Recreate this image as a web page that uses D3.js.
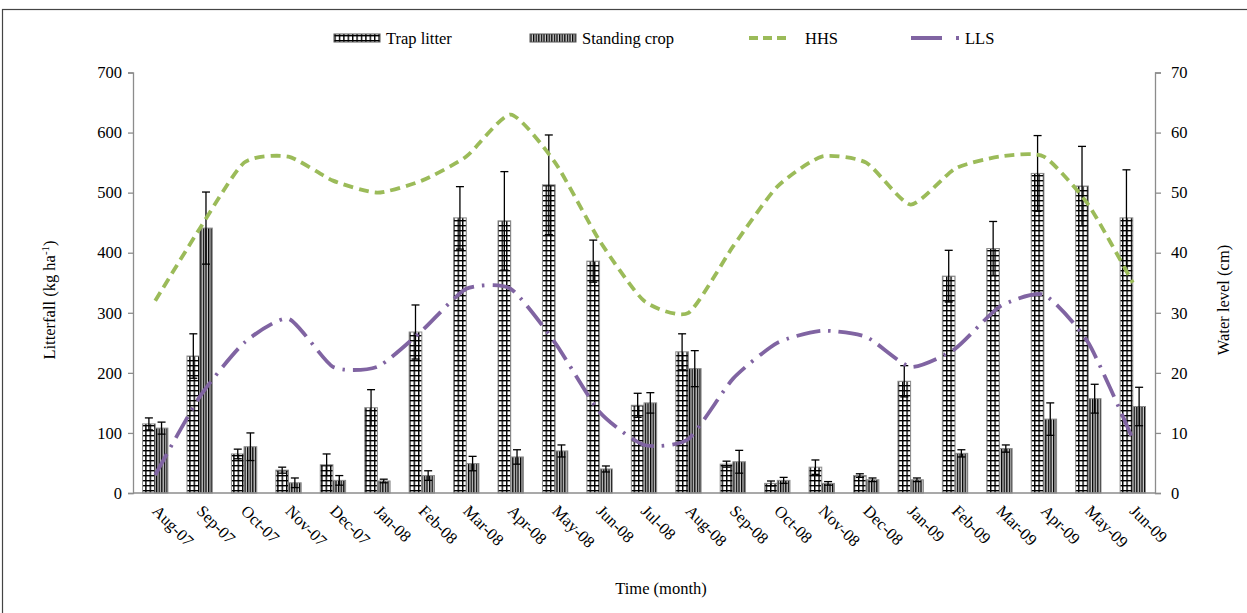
<!DOCTYPE html>
<html>
<head>
  <meta charset="UTF-8">
  <title>litterfall</title>
  <style>
    body { margin: 0; background: #fff; }
    text { font-family: "Liberation Serif", "Times New Roman", serif; fill: #000; }
  </style>
</head>
<body>
  <div class="svg-zone"></div>
  <script src="https://cdn.jsdelivr.net/npm/d3@7"></script>
  <script type="text/javascript">
  // months on the x axis
  const months = ["Aug-07","Sep-07","Oct-07","Nov-07","Dec-07","Jan-08","Feb-08","Mar-08","Apr-08","May-08","Jun-08","Jul-08",
    "Aug-08","Sep-08","Oct-08","Nov-08","Dec-08","Jan-09","Feb-09","Mar-09","Apr-09","May-09","Jun-09"];
  // litterfall, kg/ha
  const trapLitter = [115,228,65,38,47,142,268,458,453,513,386,146,235,48,16,43,29,186,361,407,532,511,458];
  const trapErr    = [10,37,8,5,18,30,45,52,82,83,35,20,30,5,4,12,3,26,43,45,63,66,80];
  const standCrop  = [108,441,77,17,21,20,29,49,60,70,40,150,207,52,21,16,22,22,66,74,123,157,144];
  const standErr   = [10,60,23,8,8,3,8,12,12,10,5,17,30,19,5,3,3,3,6,6,27,24,32];
  // water level, cm
  const hhs = [32,44,55,56,52,50,52,56,63,55,42,32,30,41,51,56,55,48,54,56,56,48,35];
  const lls = [3,16,25,29,21,21,27,34,34,25,13.5,8,9,19,25,27,26,21,24,31,33,25,9];
  const leftTicks = [0,100,200,300,400,500,600,700];
  const rightTicks = [0,10,20,30,40,50,60,70];

  const width = 1247, height = 613;
  const pLeft = 133, pRight = 1155, pTop = 72.5, pBottom = 493;
  const fs = "16.5px";

  const svg = d3.select(".svg-zone").append("svg")
    .attr("width", width)
    .attr("height", height);

  // outer frame
  svg.append("rect")
    .attr("x", 2.5).attr("y", 9.5)
    .attr("width", 1260).attr("height", 620)
    .attr("fill", "none").attr("stroke", "#444").attr("stroke-width", 1.2);

  const defs = svg.append("defs");
  // grid pattern for trap litter
  const p1 = defs.append("pattern").attr("id", "grid")
    .attr("patternUnits", "userSpaceOnUse")
    .attr("width", 4.4).attr("height", 5);
  p1.append("rect").attr("width", 4.4).attr("height", 5).attr("fill", "#fff");
  p1.append("rect").attr("width", 1.4).attr("height", 5).attr("fill", "#000");
  p1.append("rect").attr("width", 4.4).attr("height", 1.4).attr("fill", "#000");
  // vertical stripes for standing crop
  const p2 = defs.append("pattern").attr("id", "stripe")
    .attr("patternUnits", "userSpaceOnUse")
    .attr("width", 2.6).attr("height", 4);
  p2.append("rect").attr("width", 2.6).attr("height", 4).attr("fill", "#cfcfcf");
  p2.append("rect").attr("width", 1.3).attr("height", 4).attr("fill", "#000");

  const x = d3.scaleBand().domain(months).range([pLeft, pRight]);
  const y = d3.scaleLinear().domain([0, 700]).range([pBottom, pTop]);
  const y2 = d3.scaleLinear().domain([0, 70]).range([pBottom, pTop]);
  const bw = x.bandwidth() * 0.285;
  const cx = d => x(d) + x.bandwidth() / 2;

  // axes
  const yAxis = d3.axisLeft(y).tickValues(leftTicks).tickSize(5).tickPadding(6);
  const gy = svg.append("g").attr("transform", "translate(" + pLeft + ",0)").call(yAxis);
  const yAxis2 = d3.axisRight(y2).tickValues(rightTicks).tickSize(6).tickPadding(10);
  const gy2 = svg.append("g").attr("transform", "translate(" + pRight + ",0)").call(yAxis2);
  [gy, gy2].forEach(g => {
    g.selectAll("path,line").attr("stroke", "#8c8c8c").attr("stroke-width", 1.3);
    g.selectAll("text").style("font-size", fs).attr("fill", "#000")
      .style("font-family", "'Liberation Serif', serif");
  });

  // bars
  const bars = svg.append("g");
  bars.selectAll(".trap").data(months).enter().append("rect")
    .attr("class", "trap")
    .attr("x", d => cx(d) - bw)
    .attr("y", (d, i) => y(trapLitter[i]))
    .attr("width", bw)
    .attr("height", (d, i) => pBottom - y(trapLitter[i]))
    .attr("fill", "url(#grid)").attr("stroke", "#8a8a8a").attr("stroke-width", 1);
  bars.selectAll(".stand").data(months).enter().append("rect")
    .attr("class", "stand")
    .attr("x", d => cx(d))
    .attr("y", (d, i) => y(standCrop[i]))
    .attr("width", bw)
    .attr("height", (d, i) => pBottom - y(standCrop[i]))
    .attr("fill", "url(#stripe)").attr("stroke", "#8a8a8a").attr("stroke-width", 1);

  // error bars
  function errBars(vals, errs, off) {
    const g = svg.append("g").attr("stroke", "#000").attr("stroke-width", 1.3);
    months.forEach((m, i) => {
      const px = cx(m) + off;
      g.append("line").attr("x1", px).attr("x2", px)
        .attr("y1", y(vals[i] - errs[i])).attr("y2", y(vals[i] + errs[i]));
      [vals[i] - errs[i], vals[i] + errs[i]].forEach(v => {
        g.append("line").attr("x1", px - 4).attr("x2", px + 4)
          .attr("y1", y(v)).attr("y2", y(v));
      });
    });
  }
  errBars(trapLitter, trapErr, -bw / 2);
  errBars(standCrop, standErr, bw / 2);

  // x axis baseline
  svg.append("line").attr("x1", pLeft).attr("x2", pRight)
    .attr("y1", pBottom).attr("y2", pBottom)
    .attr("stroke", "#8c8c8c").attr("stroke-width", 1.3);

  // water level lines
  const line = d3.line()
    .x((d, i) => cx(months[i]))
    .y(d => y2(d))
    .curve(d3.curveCardinal.tension(0.4));
  svg.append("path").attr("d", line(hhs))
    .attr("fill", "none").attr("stroke", "#9bbb59").attr("stroke-width", 3.8)
    .attr("stroke-dasharray", "10,6");
  svg.append("path").attr("d", line(lls))
    .attr("fill", "none").attr("stroke", "#8064a2").attr("stroke-width", 3.8)
    .attr("stroke-dasharray", "24,8,2.5,8");

  // x labels, rotated
  svg.append("g").selectAll("text").data(months).enter().append("text")
    .attr("transform", d => "translate(" + (cx(d) - 4) + ",512) rotate(45)")
    .style("font-size", fs)
    .text(d => d);

  // axis titles
  svg.append("text")
    .attr("transform", "translate(55,300) rotate(-90)")
    .attr("text-anchor", "middle")
    .style("font-size", fs)
    .html('Litterfall (kg ha<tspan dy="-6" font-size="11px">-1</tspan><tspan dy="6">)</tspan>');
  svg.append("text")
    .attr("transform", "translate(1229,300) rotate(-90)")
    .attr("text-anchor", "middle")
    .style("font-size", fs)
    .text("Water level (cm)");
  svg.append("text")
    .attr("x", 661).attr("y", 594)
    .attr("text-anchor", "middle")
    .style("font-size", fs)
    .text("Time (month)");

  // legend
  const lg = svg.append("g");
  lg.append("rect").attr("x", 334).attr("y", 34).attr("width", 46).attr("height", 8)
    .attr("fill", "url(#grid)").attr("stroke", "#555");
  lg.append("text").attr("x", 386).attr("y", 44).style("font-size", fs).text("Trap litter");
  lg.append("rect").attr("x", 530).attr("y", 34).attr("width", 46).attr("height", 8)
    .attr("fill", "url(#stripe)").attr("stroke", "#555");
  lg.append("text").attr("x", 582).attr("y", 44).style("font-size", fs).text("Standing crop");
  lg.append("line").attr("x1", 749).attr("x2", 787).attr("y1", 38).attr("y2", 38)
    .attr("stroke", "#9bbb59").attr("stroke-width", 3.8).attr("stroke-dasharray", "9,5");
  lg.append("text").attr("x", 805).attr("y", 44).style("font-size", fs).text("HHS");
  lg.append("line").attr("x1", 911).attr("x2", 960).attr("y1", 38).attr("y2", 38)
    .attr("stroke", "#8064a2").attr("stroke-width", 3.8).attr("stroke-dasharray", "31,14,3,100");
  lg.append("text").attr("x", 965).attr("y", 44).style("font-size", fs).text("LLS");
  </script>
</body>
</html>
